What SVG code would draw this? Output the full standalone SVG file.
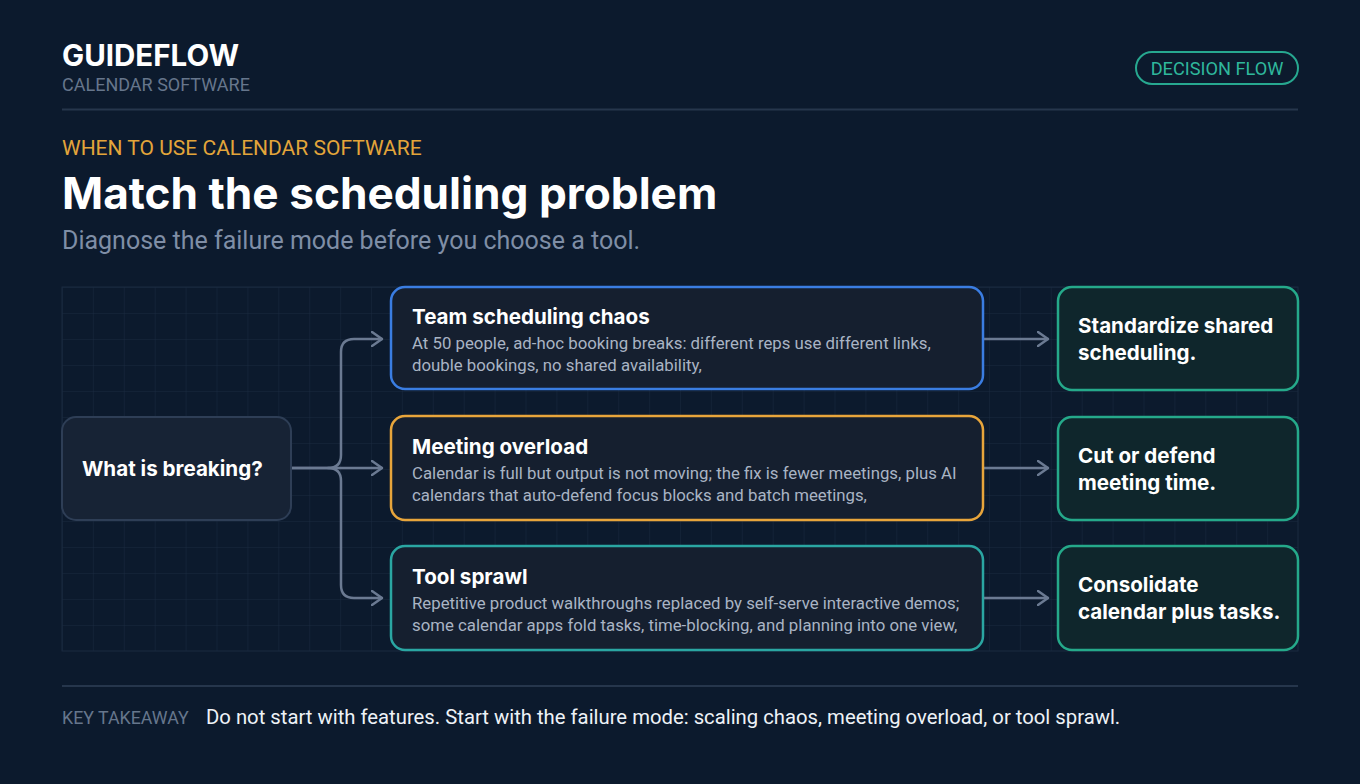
<svg xmlns="http://www.w3.org/2000/svg" width="1360" height="784" viewBox="0 0 1360 784">
<defs>
<style>
.bold{font-family:Inter,"Liberation Sans",sans-serif;font-weight:700;fill:#ffffff}
.reg{font-family:Roboto,"Liberation Sans",sans-serif;font-weight:400}
.desc{font-family:Roboto,"Liberation Sans",sans-serif;font-size:16.8px;fill:#a9b4c4}
.mid{fill:#151f2f;stroke-width:2.5}
.out{fill:#0f262c;stroke:#25a98a;stroke-width:2.5}
.conn{fill:none;stroke:#6b7a92;stroke-width:2.5;stroke-linecap:round;stroke-linejoin:round}
</style>
<pattern id="grid" x="62" y="287" width="30.9" height="26" patternUnits="userSpaceOnUse">
<path d="M0 0H30.9M0 0V26" fill="none" stroke="#1a2a40" stroke-width="1"/>
</pattern>
<marker id="arr" viewBox="0 0 12 16" refX="11" refY="8" markerWidth="12" markerHeight="16" markerUnits="userSpaceOnUse" orient="auto">
<path d="M1 1L11 8L1 15" fill="none" stroke="#6b7a92" stroke-width="2.5" stroke-linecap="round" stroke-linejoin="round"/>
</marker>
</defs>
<rect width="1360" height="784" fill="#0c1a2d"/>
<g id="header">
<text x="62" y="66" class="bold" font-size="29.5">GUIDEFLOW</text>
<text x="62" y="91" class="reg" font-size="18" fill="#66768c">CALENDAR SOFTWARE</text>
<rect x="1136" y="52" width="162" height="32" rx="16" fill="none" stroke="#27a890" stroke-width="2"/>
<text x="1217" y="75" class="reg" font-size="18.2" fill="#2fb79c" text-anchor="middle">DECISION FLOW</text>
<line x1="62" y1="109.5" x2="1298" y2="109.5" stroke="#26364c" stroke-width="2"/>
<text x="62" y="155" class="reg" font-size="21" fill="#e3a53a">WHEN TO USE CALENDAR SOFTWARE</text>
<text x="62" y="209" class="bold" font-size="44.2">Match the scheduling problem</text>
<text x="62" y="249" class="reg" font-size="25" fill="#7f8ea6">Diagnose the failure mode before you choose a tool.</text>
</g>
<rect x="62" y="287" width="1236" height="364" fill="url(#grid)"/>
<rect x="62" y="287" width="1236" height="364" fill="none" stroke="#1a2a40" stroke-width="1"/>
<g id="connectors">
<path class="conn" d="M291 468H328Q341 468 341 455V352Q341 339 354 339H382" marker-end="url(#arr)"/>
<path class="conn" d="M328 468Q341 468 341 481V585Q341 598 354 598H382" marker-end="url(#arr)"/>
<path class="conn" d="M291 468H382" marker-end="url(#arr)"/>
<path class="conn" d="M983 339H1048" marker-end="url(#arr)"/>
<path class="conn" d="M983 468H1048" marker-end="url(#arr)"/>
<path class="conn" d="M983 598H1048" marker-end="url(#arr)"/>
</g>
<g id="start">
<rect x="62" y="417" width="229" height="103" rx="14" fill="#172335" stroke="#2e3e56" stroke-width="2"/>
<text x="82" y="476" class="bold" font-size="20.6">What is breaking?</text>
</g>
<g id="team">
<rect x="391" y="287" width="592" height="102" rx="14" class="mid" stroke="#3a7de2"/>
<text x="412" y="324" class="bold" font-size="20.6">Team scheduling chaos</text>
<text x="412" y="349" class="desc">At 50 people, ad-hoc booking breaks: different reps use different links,</text>
<text x="412" y="371" class="desc">double bookings, no shared availability,</text>
</g>
<g id="meeting">
<rect x="391" y="416" width="592" height="104" rx="14" class="mid" stroke="#e8a53b"/>
<text x="412" y="454" class="bold" font-size="20.6">Meeting overload</text>
<text x="412" y="479" class="desc">Calendar is full but output is not moving; the fix is fewer meetings, plus AI</text>
<text x="412" y="501" class="desc">calendars that auto-defend focus blocks and batch meetings,</text>
</g>
<g id="sprawl">
<rect x="391" y="546" width="592" height="104" rx="14" class="mid" stroke="#2aa6a2"/>
<text x="412" y="584" class="bold" font-size="20.6">Tool sprawl</text>
<text x="412" y="609" class="desc">Repetitive product walkthroughs replaced by self-serve interactive demos;</text>
<text x="412" y="631" class="desc">some calendar apps fold tasks, time-blocking, and planning into one view,</text>
</g>
<g id="out1">
<rect x="1058" y="287" width="240" height="103" rx="14" class="out"/>
<text x="1078" y="333" class="bold" font-size="20.6">Standardize shared</text>
<text x="1078" y="360" class="bold" font-size="20.6">scheduling.</text>
</g>
<g id="out2">
<rect x="1058" y="417" width="240" height="103" rx="14" class="out"/>
<text x="1078" y="463" class="bold" font-size="20.6">Cut or defend</text>
<text x="1078" y="490" class="bold" font-size="20.6">meeting time.</text>
</g>
<g id="out3">
<rect x="1058" y="546" width="240" height="104" rx="14" class="out"/>
<text x="1078" y="592" class="bold" font-size="20.6">Consolidate</text>
<text x="1078" y="619" class="bold" font-size="20.6">calendar plus tasks.</text>
</g>
<g id="footer">
<line x1="62" y1="686" x2="1298" y2="686" stroke="#26364c" stroke-width="2"/>
<text x="62" y="724" class="reg" font-size="17.8" fill="#66768c">KEY TAKEAWAY</text>
<text x="206" y="724" class="reg" font-size="20.3" fill="#eef2f7">Do not start with features. Start with the failure mode: scaling chaos, meeting overload, or tool sprawl.</text>
</g>
</svg>
